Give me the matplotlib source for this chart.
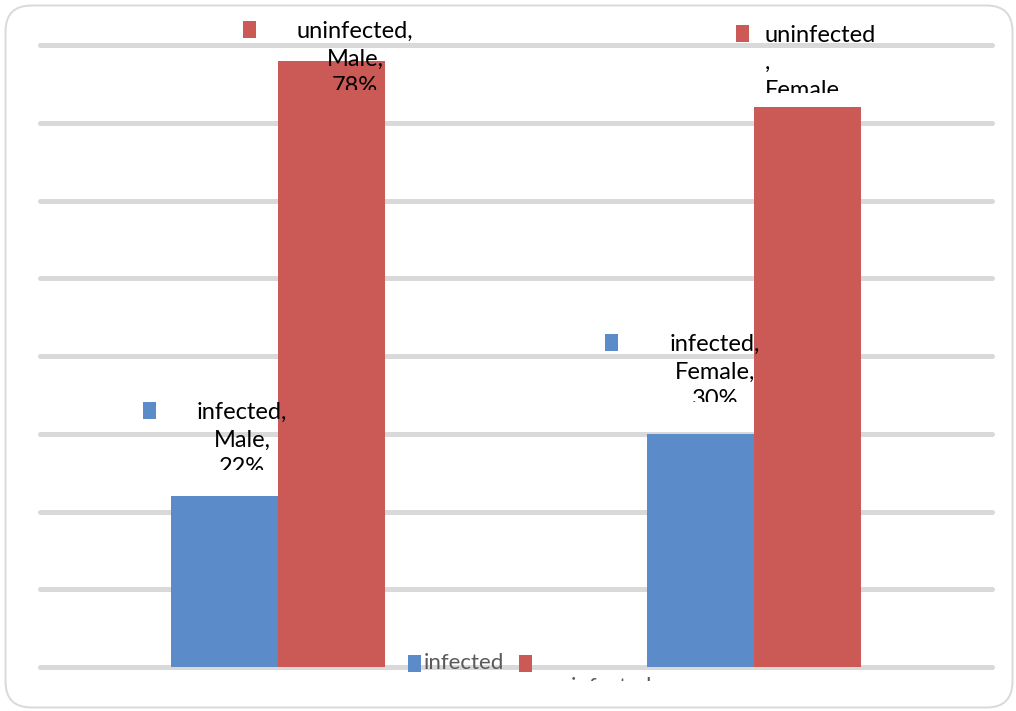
import matplotlib
matplotlib.use("Agg")
import matplotlib.pyplot as plt
from matplotlib.patches import Rectangle, FancyBboxPatch
from matplotlib.transforms import Bbox, IdentityTransform

# ---- data ----
categories = ["Male", "Female"]
series_names = ["infected", "uninfected"]
infected = [22, 30]
uninfected = [78, 72]
series_values = [infected, uninfected]
series_colors = ["#5b8bc8", "#cb5a56"]

W, H = 1016, 711
DPI = 100
plt.rcParams["font.family"] = ["Lato", "DejaVu Sans"]

fig = plt.figure(figsize=(W / DPI, H / DPI), dpi=DPI)
ident = IdentityTransform()


def fx(x):
    return x / W


def fy(y):
    return 1 - y / H


# rounded chart-area border (pixel coords, origin bottom-left)
border = FancyBboxPatch((5.5, 3.5), 1007, 702,
                        boxstyle="round,pad=0,rounding_size=26",
                        transform=ident, facecolor="none",
                        edgecolor="#d9d9d9", linewidth=1.4, zorder=-5)
fig.patches.append(border)

ax = fig.add_axes([fx(40), fy(667), fx(992) - fx(40), fy(45) - fy(667)])
ax.set_facecolor("none")
ax.set_xlim(-0.5, len(categories) - 0.5)
ax.set_ylim(0, 80)
for s in ax.spines.values():
    s.set_visible(False)
ax.set_xticks([])
ax.set_yticks([])

# horizontal gridlines every 10%
for v in range(0, 81, 10):
    ax.axhline(v, color="#d9d9d9", lw=3.6, solid_capstyle="round",
               zorder=0, clip_on=False)

bar_w = 0.225
offsets = [-bar_w / 2, bar_w / 2]
for si, vals in enumerate(series_values):
    xs = [i + offsets[si] for i in range(len(categories))]
    ax.bar(xs, vals, width=bar_w, color=series_colors[si],
           edgecolor="none", zorder=2)

# data labels: (series, category) -> layout in pixels
# text anchor (x, top of first line), alignment, clip bottom,
# marker square top-left
label_layout = {
    (0, 0): dict(x=242, y=402, ha="center", clip=470, mx=143, my=402),
    (1, 0): dict(x=355, y=21, ha="center", clip=90, mx=243, my=21),
    (0, 1): dict(x=715, y=334, ha="center", clip=402, mx=605, my=334),
    (1, 1): dict(x=765, y=25, ha="left", clip=93, mx=736, my=25),
}

for si, vals in enumerate(series_values):
    for ci, cat in enumerate(categories):
        lay = label_layout[(si, ci)]
        if si == 1 and ci == 1:
            txt = f"{series_names[si]}\n,\n{cat},\n{vals[ci]}%"
        else:
            txt = f"{series_names[si]},\n{cat},\n{vals[ci]}%"
        t = fig.text(fx(lay["x"]), fy(lay["y"]), txt, ha=lay["ha"],
                     va="top", fontsize=17, color="black",
                     multialignment=lay["ha"], linespacing=1.39)
        t.set_clip_box(Bbox.from_extents(0, H - lay["clip"], W, H))
        t.set_clip_on(True)
        fig.patches.append(Rectangle((fx(lay["mx"]), fy(lay["my"] + 17)),
                                     fx(13), 17 / H,
                                     transform=fig.transFigure,
                                     facecolor=series_colors[si],
                                     edgecolor="none"))

# legend along the bottom
fig.patches.append(Rectangle((fx(408), fy(672)), fx(13), 17 / H,
                             transform=fig.transFigure,
                             facecolor=series_colors[0], edgecolor="none"))
fig.text(fx(424), fy(663), series_names[0], ha="left", va="center",
         fontsize=16, color="#595959")
fig.patches.append(Rectangle((fx(519), fy(672)), fx(13), 17 / H,
                             transform=fig.transFigure,
                             facecolor=series_colors[1], edgecolor="none"))
t2 = fig.text(fx(547), fy(677), series_names[1], ha="left", va="top",
              fontsize=16, color="#595959")
t2.set_clip_box(Bbox.from_extents(0, H - 681, W, H - 677))
t2.set_clip_on(True)

fig.savefig("out.png", dpi=DPI)
